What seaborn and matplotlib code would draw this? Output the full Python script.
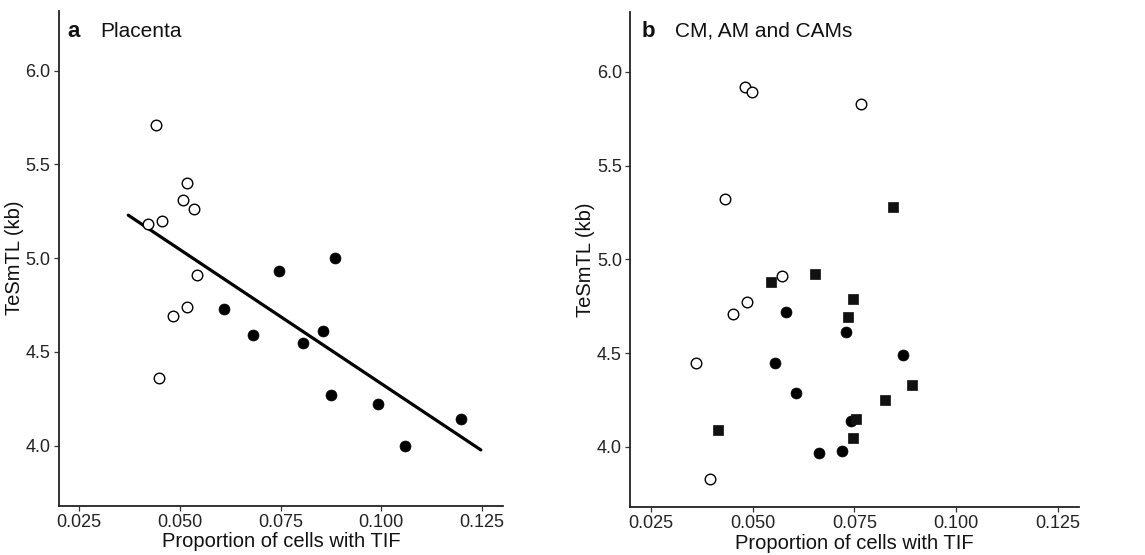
import numpy as np
import pandas as pd
import matplotlib
matplotlib.use("Agg")
import matplotlib.pyplot as plt
import seaborn as sns

# ---- Panel a: Placenta ----
a_open_x = [0.0442, 0.0517, 0.0509, 0.0536, 0.0455, 0.0422, 0.0543, 0.0484, 0.0518, 0.0448]
a_open_y = [5.71, 5.40, 5.31, 5.26, 5.20, 5.18, 4.91, 4.69, 4.74, 4.36]
a_fill_x = [0.0746, 0.0886, 0.0610, 0.0682, 0.0805, 0.0856, 0.0874, 0.0993, 0.1059, 0.1197]
a_fill_y = [4.93, 5.00, 4.73, 4.59, 4.55, 4.61, 4.27, 4.22, 4.00, 4.14]
fit_x_range = [0.0372, 0.1247]

# ---- Panel b: CM, AM and CAMs ----
b_open_x = [0.0481, 0.0498, 0.0767, 0.0432, 0.0572, 0.0486, 0.0452, 0.0360, 0.0396]
b_open_y = [5.92, 5.89, 5.83, 5.32, 4.91, 4.77, 4.71, 4.45, 3.83]
b_circ_x = [0.0582, 0.0729, 0.0556, 0.0869, 0.0606, 0.0741, 0.0662, 0.0719]
b_circ_y = [4.72, 4.61, 4.45, 4.49, 4.29, 4.14, 3.97, 3.98]
b_sq_x = [0.0845, 0.0545, 0.0653, 0.0746, 0.0735, 0.0892, 0.0826, 0.0754, 0.0746, 0.0416]
b_sq_y = [5.28, 4.88, 4.92, 4.79, 4.69, 4.33, 4.25, 4.15, 4.05, 4.09]

x_ticks = [0.025, 0.050, 0.075, 0.100, 0.125]
x_tick_labels = ["0.025", "0.050", "0.075", "0.100", "0.125"]
y_ticks = [4.0, 4.5, 5.0, 5.5, 6.0]
y_tick_labels = ["4.0", "4.5", "5.0", "5.5", "6.0"]

sns.set_theme(style="ticks")
plt.rcParams['font.family'] = ['Liberation Sans', 'DejaVu Sans']

fig = plt.figure(figsize=(11.45, 5.55), dpi=100)
fig.patch.set_facecolor("white")
ax1 = fig.add_axes([0.0515, 0.0888, 0.3878, 0.8919])
ax2 = fig.add_axes([0.5505, 0.0865, 0.3921, 0.8925])

open_kw = dict(marker="o", s=58, facecolor="white", edgecolor="black", linewidth=1.0, zorder=3)
fill_kw = dict(marker="o", s=62, color="black", edgecolor="black", linewidth=0.5, zorder=3)
sq_kw = dict(marker="s", s=42, color="#111111", edgecolor="#111111", linewidth=0.5, zorder=3)

# panel a
sns.scatterplot(x=a_open_x, y=a_open_y, ax=ax1, **open_kw)
sns.scatterplot(x=a_fill_x, y=a_fill_y, ax=ax1, **fill_kw)
all_x = np.array(a_open_x + a_fill_x)
all_y = np.array(a_open_y + a_fill_y)
slope, intercept = np.polyfit(all_x, all_y, 1)
fx = np.array(fit_x_range)
sns.lineplot(x=fx, y=intercept + slope * fx, ax=ax1, color="black", linewidth=2.3, zorder=2)

# panel b
sns.scatterplot(x=b_open_x, y=b_open_y, ax=ax2, **open_kw)
sns.scatterplot(x=b_circ_x, y=b_circ_y, ax=ax2, **fill_kw)
sns.scatterplot(x=b_sq_x, y=b_sq_y, ax=ax2, **sq_kw)

for ax, letter, title, lx, tx, ty in [
    (ax1, "a", "Placenta", 0.018, 0.092, 0.947),
    (ax2, "b", "CM, AM and CAMs", 0.024, 0.100, 0.949),
]:
    ax.set_xlim(0.0200, 0.1302)
    ax.set_ylim(3.68, 6.32)
    ax.set_xticks(x_ticks)
    ax.set_xticklabels(x_tick_labels)
    ax.set_yticks(y_ticks)
    ax.set_yticklabels(y_tick_labels)
    ax.tick_params(axis="both", labelsize=13, colors="#333333", labelcolor="#222222",
                   length=3.5, width=0.9, pad=2.5)
    for side in ["top", "right"]:
        ax.spines[side].set_visible(False)
    for side in ["left", "bottom"]:
        ax.spines[side].set_color("#222222")
        ax.spines[side].set_linewidth(1.3)
    ax.set_facecolor("white")
    ax.set_xlabel("Proportion of cells with TIF", fontsize=14.5, color="#111111", labelpad=1)
    ax.set_ylabel("TeSmTL (kb)", fontsize=14.5, color="#111111", labelpad=1)
    ax.text(lx, ty, letter, transform=ax.transAxes, fontsize=16, fontweight="bold",
            ha="left", va="baseline", color="#111111")
    ax.text(tx, ty, title, transform=ax.transAxes, fontsize=15, ha="left",
            va="baseline", color="#111111")

fig.savefig("out.png", dpi=100, facecolor="white")
